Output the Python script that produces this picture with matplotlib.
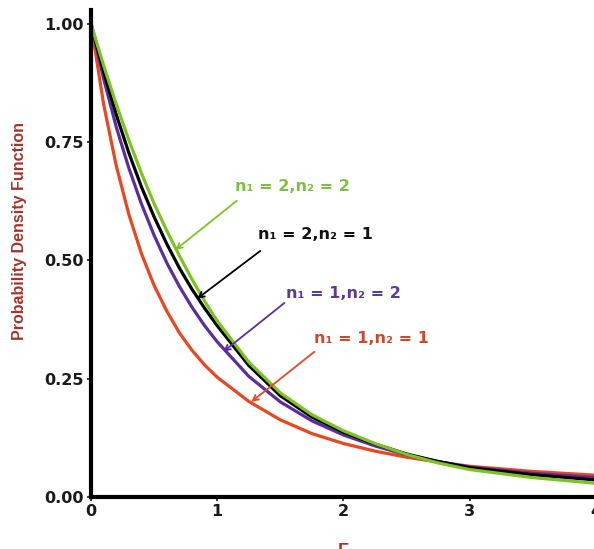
import matplotlib
matplotlib.use('Agg')
import matplotlib.pyplot as plt
from matplotlib.ticker import FormatStrFormatter

plt.rcParams['font.family'] = ['DejaVu Sans']

# values
f_vals = [0, 0.1, 0.2, 0.3, 0.4, 0.5, 0.6, 0.7, 0.8, 0.9, 1.0,
          1.25, 1.5, 1.75, 2.0, 2.25, 2.5, 2.75, 3.0, 3.5, 4.0]
pdf_1_1 = [1.0, 0.83, 0.7, 0.597, 0.514, 0.447, 0.393, 0.347, 0.31, 0.279, 0.253,
           0.202, 0.163, 0.134, 0.113, 0.097, 0.084, 0.074, 0.065, 0.054, 0.046]
pdf_1_2 = [1.0, 0.884, 0.782, 0.695, 0.619, 0.553, 0.495, 0.445, 0.401, 0.362, 0.328,
           0.255, 0.201, 0.161, 0.131, 0.108, 0.089, 0.075, 0.063, 0.05, 0.041]
pdf_2_1 = [1.0, 0.899, 0.808, 0.727, 0.655, 0.592, 0.535, 0.484, 0.439, 0.399, 0.362,
           0.278, 0.214, 0.169, 0.137, 0.112, 0.091, 0.075, 0.062, 0.047, 0.036]
pdf_2_2 = [1.0, 0.912, 0.83, 0.754, 0.684, 0.62, 0.563, 0.51, 0.46, 0.414, 0.372,
           0.285, 0.22, 0.174, 0.14, 0.113, 0.09, 0.072, 0.058, 0.041, 0.029]

labels = ['n\u2081 = 1,n\u2082 = 1', 'n\u2081 = 1,n\u2082 = 2',
          'n\u2081 = 2,n\u2082 = 1', 'n\u2081 = 2,n\u2082 = 2']
colors = ['#e8471f', '#5b2d9e', '#000000', '#7cc423']
text_colors = ['#d2472a', '#5b3a98', '#111111', '#7cc242']
# label centre, arrow start, arrow tip (data coords)
text_pos = [(2.222, 0.335), (1.996, 0.430), (1.782, 0.554), (1.595, 0.656)]
arrow_from = [(1.77, 0.307), (1.532, 0.41), (1.341, 0.52), (1.155, 0.626)]
arrow_to = [(1.27, 0.201), (1.048, 0.307), (0.841, 0.419), (0.667, 0.522)]

fig = plt.figure(figsize=(5.94, 5.49), dpi=100)
ax = fig.add_axes([0.1532, 0.0947, 0.850, 0.887])

series = [pdf_1_1, pdf_1_2, pdf_2_1, pdf_2_2]
for ys, c in zip(series, colors):
    ax.plot(f_vals, ys, color=c, lw=2.3, solid_capstyle='round')

for lab, tc, c, tp, a0, a1 in zip(labels, text_colors, colors, text_pos, arrow_from, arrow_to):
    ax.text(tp[0], tp[1], lab, color=tc, fontsize=11.5, fontweight='bold',
            ha='center', va='center')
    ax.annotate('', xy=a1, xytext=a0,
                arrowprops=dict(arrowstyle='->', color=c, lw=1.3,
                                shrinkA=0, shrinkB=0, mutation_scale=10))

ax.set_xlim(0, 4)
ax.set_ylim(0, 1.029)
ax.set_xticks([0, 1, 2, 3, 4])
ax.set_yticks([0, 0.25, 0.5, 0.75, 1.0])
ax.yaxis.set_major_formatter(FormatStrFormatter('%.2f'))

for s in ['top', 'right']:
    ax.spines[s].set_visible(False)
for s in ['left', 'bottom']:
    ax.spines[s].set_linewidth(3)
ax.tick_params(direction='out', length=3, width=1.2, labelsize=11.5, pad=2, colors='#1a1a1a')
for t in ax.get_xticklabels() + ax.get_yticklabels():
    t.set_fontweight('bold')

ax.set_ylabel('Probability Density Function', color='#a3342a', fontsize=11.5,
              fontweight='bold', family='Liberation Sans')
ax.yaxis.set_label_coords(-0.127, 0.546)
ax.set_xlabel('F', color='#a3342a', fontsize=13, fontweight='bold',
              family='Liberation Sans', labelpad=17)

fig.savefig('out.png', dpi=100)
